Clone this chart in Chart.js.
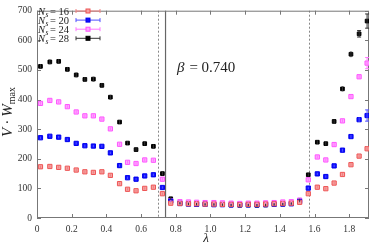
<!DOCTYPE html>
<html>
<head>
<meta charset="utf-8">
<script src="https://cdn.jsdelivr.net/npm/chart.js@4.4.1/dist/chart.umd.min.js"></script>
<style>
  html, body { margin: 0; padding: 0; background: #fff; }
  #wrap { width: 374px; height: 245px; position: relative; }
</style>
</head>
<body>
<div id="wrap"><canvas id="chart"></canvas></div>
<script>
// lambda values of the measured points
const lambdas = [0.02, 0.074, 0.125, 0.175, 0.226, 0.276, 0.325, 0.374, 0.423, 0.476, 0.522, 0.571, 0.621, 0.671, 0.723,
  0.771, 0.824, 0.873, 0.92, 0.969, 1.02, 1.069, 1.119, 1.169, 1.218, 1.268, 1.318, 1.367, 1.417, 1.466, 1.514,
  1.564, 1.616, 1.665, 1.713, 1.761, 1.81, 1.857, 1.903];

const ns16 = [173, 174, 171, 168, 162, 156, 154, 156, 144, 116, 97, 92, 100, 104, 82,
  50, 49, 48, 48, 47, 47, 46, 46, 45, 46, 46, 47, 48, 49, 50, 53,
  82, 104, 99, 118, 147, 180, 209, 234];
const ns20 = [271, 276, 273, 265, 252, 244, 243, 242, 220, 177, 136, 131, 142, 146, 103,
  57, 49, 47, 46, 46, 45, 45, 44, 44, 44, 44, 45, 46, 47, 48, 56,
  101, 149, 140, 176, 229, 275, 332, 346];
const ns24 = [387, 397, 392, 376, 358, 345, 345, 334, 301, 249, 188, 184, 196, 195, 131,
  58, 55, 54, 53, 52, 52, 51, 50, 49, 50, 50, 51, 52, 54, 55, 60,
  129, 206, 196, 248, 328, 410, 477, 523];
const ns28 = [512, 527, 529, 502, 483, 468, 469, 448, 408, 324, 253, 231, 251, 242, 150,
  65, 50, 48, 47, 46, 46, 45, 44, 43, 44, 43, 44, 46, 47, 49, 60,
  146, 256, 251, 326, 436, 553, 622, 665];

// error bars (half widths)
const err16 = [4, 4, 4, 4, 4, 4, 4, 4, 4, 4, 4, 4, 4, 4, 4,
  3, 3, 3, 3, 3, 3, 3, 3, 3, 3, 3, 3, 3, 3, 3, 3,
  3, 4, 4, 4, 5, 5, 6, 9];
const err20 = [4, 4, 4, 4, 4, 4, 4, 4, 4, 4, 4, 4, 4, 4, 4,
  3, 3, 3, 3, 3, 3, 3, 3, 3, 3, 3, 3, 3, 3, 3, 3,
  4, 4, 4, 4, 5, 6, 8, 19];
const err24 = [5, 5, 5, 5, 5, 5, 5, 5, 5, 5, 5, 5, 5, 5, 5,
  3, 3, 3, 3, 3, 3, 3, 3, 3, 3, 3, 3, 3, 3, 3, 3,
  4, 5, 5, 5, 6, 7, 8, 19];
const err28 = [8, 8, 8, 8, 8, 8, 8, 8, 8, 6, 6, 6, 6, 6, 6,
  5, 4, 4, 4, 4, 4, 4, 4, 4, 4, 4, 4, 4, 4, 4, 5,
  5, 6, 6, 6, 8, 10, 11, 24];

const xTicks = [0, 0.2, 0.4, 0.6, 0.8, 1, 1.2, 1.4, 1.6, 1.8];
const yTicks = [0, 100, 200, 300, 400, 500, 600, 700];
const seriesLabels = ['16', '20', '24', '28'];
const dashedAt = [0.70, 1.57];
const betaAt = 0.741;
const betaText = 'β = 0.740';

const SERIF = '"Liberation Serif", "DejaVu Serif", serif';

function pts(ys) { return lambdas.map((l, i) => ({ x: l, y: ys[i] })); }

const errorBars = {
  id: 'errorBars',
  afterDatasetsDraw(chart) {
    const { ctx, scales: { x, y } } = chart;
    const errs = [err16, err20, err24, err28];
    ctx.save();
    chart.data.datasets.forEach((ds, di) => {
      ctx.strokeStyle = ds.errColor;
      ctx.lineWidth = 1;
      ds.data.forEach((p, i) => {
        const px = x.getPixelForValue(p.x);
        const y1 = y.getPixelForValue(p.y - errs[di][i]);
        const y2 = y.getPixelForValue(p.y + errs[di][i]);
        ctx.beginPath();
        ctx.moveTo(px, y1); ctx.lineTo(px, y2);
        if (y1 - y2 > 6) {
          ctx.moveTo(px - 2, y1); ctx.lineTo(px + 2, y1);
          ctx.moveTo(px - 2, y2); ctx.lineTo(px + 2, y2);
        }
        ctx.stroke();
      });
    });
    ctx.restore();
  }
};

const frame = {
  id: 'frame',
  beforeDatasetsDraw(chart) {
    const { ctx, chartArea: a, scales: { x, y } } = chart;
    ctx.save();
    // reference lines
    ctx.strokeStyle = '#888';
    ctx.lineWidth = 1;
    ctx.setLineDash([2, 2]);
    dashedAt.forEach(v => {
      const px = Math.round(x.getPixelForValue(v)) + 0.5;
      ctx.beginPath(); ctx.moveTo(px, a.top); ctx.lineTo(px, a.bottom); ctx.stroke();
    });
    ctx.setLineDash([]);
    ctx.strokeStyle = '#666';
    ctx.lineWidth = 1.2;
    const bx = x.getPixelForValue(betaAt);
    ctx.beginPath(); ctx.moveTo(bx, a.top); ctx.lineTo(bx, a.bottom); ctx.stroke();

    // frame and inward ticks
    ctx.strokeStyle = '#777';
    ctx.lineWidth = 1;
    ctx.strokeRect(a.left + 0.5, a.top + 0.5, a.right - a.left - 1, a.bottom - a.top - 1);
    ctx.beginPath();
    xTicks.forEach(v => {
      const px = Math.round(x.getPixelForValue(v)) + 0.5;
      ctx.moveTo(px, a.bottom); ctx.lineTo(px, a.bottom - 4);
      ctx.moveTo(px, a.top); ctx.lineTo(px, a.top + 4);
    });
    yTicks.forEach(v => {
      const py = Math.round(y.getPixelForValue(v)) + 0.5;
      ctx.moveTo(a.left, py); ctx.lineTo(a.left + 4, py);
      ctx.moveTo(a.right, py); ctx.lineTo(a.right - 4, py);
    });
    ctx.stroke();

    // beta label
    ctx.fillStyle = '#222';
    ctx.font = 'italic 15px ' + SERIF;
    ctx.textBaseline = 'middle';
    ctx.textAlign = 'left';
    ctx.fillText('β', 177, 68);
    ctx.font = '15px ' + SERIF;
    ctx.fillText(betaText.slice(1), 177 + ctx.measureText('β').width + 1, 68);
    ctx.restore();
  },
  afterDraw(chart) {
    const { ctx } = chart;
    ctx.save();
    ctx.fillStyle = '#222';
    ctx.textBaseline = 'alphabetic';
    // legend
    chart.data.datasets.forEach((ds, i) => {
      const ly = 11 + i * 9.1;
      ctx.font = 'italic 10.5px ' + SERIF;
      ctx.textAlign = 'left';
      ctx.fillText('N', 38, ly + 4);
      ctx.font = 'italic 7.5px ' + SERIF;
      ctx.fillText('s', 45.5, ly + 6);
      ctx.font = '10.5px ' + SERIF;
      ctx.fillText('= ' + seriesLabels[i], 50, ly + 4);
      ctx.strokeStyle = ds.errColor;
      ctx.lineWidth = 1;
      ctx.beginPath();
      ctx.moveTo(76, ly); ctx.lineTo(100, ly);
      ctx.moveTo(76, ly - 2); ctx.lineTo(76, ly + 2);
      ctx.moveTo(100, ly - 2); ctx.lineTo(100, ly + 2);
      ctx.stroke();
      ctx.fillStyle = ds.backgroundColor;
      ctx.strokeStyle = ds.borderColor;
      ctx.fillRect(86, ly - 2, 4, 4);
      ctx.strokeRect(86, ly - 2, 4, 4);
      ctx.fillStyle = '#222';
    });
    // y title
    ctx.translate(12, 112);
    ctx.rotate(-Math.PI / 2);
    ctx.textAlign = 'left';
    ctx.font = 'italic 15px ' + SERIF;
    const t1 = 'V · W';
    const w1 = ctx.measureText(t1).width;
    ctx.font = '10px ' + SERIF;
    const w2 = ctx.measureText('max').width;
    const start = -(w1 + w2) / 2;
    ctx.font = 'italic 15px ' + SERIF;
    ctx.fillText(t1, start, 0);
    ctx.font = '10px ' + SERIF;
    ctx.fillText('max', start + w1, 3);
    ctx.restore();
    // x title
    ctx.save();
    ctx.fillStyle = '#222';
    ctx.font = 'italic 13px ' + SERIF;
    ctx.textAlign = 'center';
    ctx.textBaseline = 'middle';
    ctx.fillText('λ', 206, 239);
    ctx.restore();
  }
};

new Chart(document.getElementById('chart'), {
  type: 'scatter',
  data: {
    datasets: [
      { label: 'Ns = 16', data: pts(ns16), pointStyle: 'rect', pointRadius: 3, borderWidth: 1,
        backgroundColor: '#f5a3a3', borderColor: '#ee5555', errColor: '#f08080' },
      { label: 'Ns = 20', data: pts(ns20), pointStyle: 'rect', pointRadius: 3, borderWidth: 1,
        backgroundColor: '#1010ff', borderColor: '#0000ee', errColor: '#5050ff' },
      { label: 'Ns = 24', data: pts(ns24), pointStyle: 'rect', pointRadius: 3, borderWidth: 1,
        backgroundColor: '#ffa8ff', borderColor: '#ff55ff', errColor: '#ff77ff' },
      { label: 'Ns = 28', data: pts(ns28), pointStyle: 'rect', pointRadius: 2.6, borderWidth: 1,
        backgroundColor: '#000', borderColor: '#000', errColor: '#333' }
    ]
  },
  options: {
    responsive: true,
    maintainAspectRatio: false,
    animation: false,
    layout: { padding: { top: 4, right: 2, left: 0, bottom: 0 } },
    plugins: { legend: { display: false }, tooltip: { enabled: false } },
    scales: {
      x: {
        type: 'linear', min: 0, max: 1.914,
        afterBuildTicks: s => { s.ticks = xTicks.map(v => ({ value: v })); },
        afterFit: s => { s.height = 27; },
        grid: { display: false, drawTicks: false },
        border: { display: false },
        ticks: { padding: 6, color: '#333', font: { family: SERIF, size: 9.5 }, maxRotation: 0 }
      },
      y: {
        type: 'linear', min: 0, max: 700,
        afterBuildTicks: s => { s.ticks = yTicks.map(v => ({ value: v })); },
        afterFit: s => { s.width = 37; },
        grid: { display: false, drawTicks: false },
        border: { display: false },
        ticks: { padding: 5, color: '#333', font: { family: SERIF, size: 9.5 } }
      }
    }
  },
  plugins: [frame, errorBars]
});
</script>
</body>
</html>
